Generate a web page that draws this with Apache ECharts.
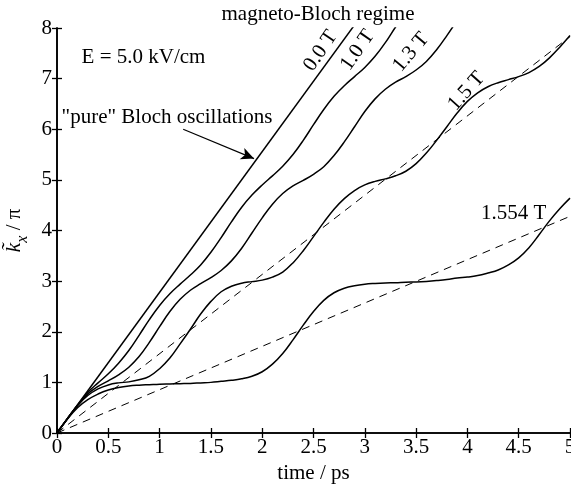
<!DOCTYPE html>
<html>
<head>
<meta charset="utf-8">
<script src="https://cdn.jsdelivr.net/npm/echarts@6/dist/echarts.min.js"></script>
<style>html,body{margin:0;padding:0;background:#fff}#c{width:571px;height:485px}</style>
</head>
<body>
<div id="c"></div>
<script>
// ---- data ----
const tGrid = [0,0.1,0.2,0.3,0.4,0.5,0.6,0.7,0.8,0.9,1.0,1.1,1.2,1.3,1.4,1.5,1.6,1.7,1.8,1.9,2.0,2.1,2.2,2.3,2.4,2.5,2.6,2.7,2.8,2.9,3.0,3.1,3.2,3.3,3.4,3.5,3.6,3.7,3.8,3.9,4.0,4.1,4.2,4.3,4.4,4.5,4.6,4.7,4.8,4.9,5.0];
const t00 = [0, 2.9];
const k00 = [0, 8.06];
const t10 = [0,0.1,0.2,0.3,0.4,0.5,0.6,0.7,0.8,0.9,1.0,1.1,1.2,1.3,1.4,1.5,1.6,1.7,1.8,1.9,2.0,2.1,2.2,2.3,2.4,2.5,2.6,2.7,2.8,2.9,3.0,3.1,3.2,3.3,3.4];
const k10 = [0,0.28,0.55,0.8,0.99,1.17,1.38,1.63,1.93,2.24,2.52,2.75,2.94,3.12,3.32,3.57,3.86,4.17,4.46,4.7,4.9,5.08,5.27,5.5,5.78,6.09,6.39,6.65,6.86,7.04,7.22,7.44,7.71,8.02,8.3];
const t13 = [0,0.1,0.2,0.3,0.4,0.5,0.6,0.7,0.8,0.9,1.0,1.1,1.2,1.3,1.4,1.5,1.6,1.7,1.8,1.9,2.0,2.1,2.2,2.3,2.4,2.5,2.6,2.7,2.8,2.9,3.0,3.1,3.2,3.3,3.4,3.5,3.6,3.7,3.8,3.9];
const k13 = [0,0.28,0.55,0.77,0.92,1.03,1.15,1.3,1.51,1.79,2.1,2.4,2.64,2.82,2.95,3.07,3.21,3.4,3.65,3.95,4.25,4.52,4.73,4.88,4.99,5.11,5.26,5.48,5.75,6.05,6.35,6.6,6.79,6.93,7.04,7.17,7.34,7.57,7.85,8.15];
const k15 = [0,0.28,0.54,0.74,0.87,0.95,0.99,1.01,1.05,1.12,1.27,1.48,1.76,2.05,2.35,2.6,2.79,2.9,2.96,2.99,3.02,3.08,3.18,3.36,3.6,3.88,4.16,4.42,4.63,4.79,4.9,4.97,5.02,5.08,5.17,5.32,5.53,5.78,6.05,6.32,6.55,6.72,6.84,6.92,6.98,7.04,7.12,7.24,7.41,7.62,7.85];
const k1554 = [0,0.27,0.5,0.66,0.77,0.85,0.9,0.93,0.945,0.955,0.965,0.97,0.975,0.98,0.99,1.0,1.02,1.04,1.07,1.12,1.21,1.36,1.57,1.84,2.13,2.4,2.62,2.77,2.86,2.91,2.94,2.955,2.965,2.97,2.98,2.985,2.995,3.01,3.03,3.06,3.08,3.11,3.16,3.22,3.32,3.46,3.66,3.92,4.19,4.43,4.64];
const tDash = [0, 5];
const kDash15 = [0, 7.83];
const kDash1554 = [0, 4.28];
const xTicks = {min: 0, max: 5, step: 0.5};
const yTicks = {min: 0, max: 8, step: 1};
const curveLabels = ['0.0 T', '1.0 T', '1.3 T', '1.5 T', '1.554 T'];

function zip(t, k) { return t.map((v, i) => [v, k[i]]); }

const FONT = "'Liberation Serif','Times New Roman',serif";
const FS = 21;
const chart = echarts.init(document.getElementById('c'), null, {renderer: 'canvas'});

const axisLine = {show: true, lineStyle: {color: '#000', width: 1.6}};
const tick = {show: true, inside: true, length: 5, lineStyle: {color: '#000', width: 1.3}};

function solid(name, data) {
  return {name, type: 'line', data, symbol: 'none', smooth: 0.4, clip: true,
    lineStyle: {color: '#000', width: 1.5}, z: 3};
}
function dashed(name, data) {
  return {name, type: 'line', data, symbol: 'none', clip: true,
    lineStyle: {color: '#000', width: 1, type: [8, 6]}, z: 2};
}

const option = {
  animation: false,
  backgroundColor: '#fff',
  textStyle: {fontFamily: FONT},
  title: {text: 'magneto-Bloch regime', left: 313, top: -1, textAlign: 'center',
    textStyle: {fontFamily: FONT, fontWeight: 'normal', fontSize: FS, color: '#000'}},
  grid: {left: 57, right: 1, top: 28, bottom: 52, containLabel: false, outerBoundsMode: 'none'},
  xAxis: [
    {type: 'value', position: 'bottom', min: xTicks.min, max: xTicks.max, interval: xTicks.step,
      axisLine, axisTick: tick, splitLine: {show: false},
      axisLabel: {color: '#000', fontSize: FS, fontFamily: FONT, margin: 4, showMaxLabel: true},
      name: 'time / ps', nameLocation: 'middle', nameGap: 26,
      nameTextStyle: {color: '#000', fontSize: FS, fontFamily: FONT}},
    {type: 'value', position: 'top', min: xTicks.min, max: xTicks.max, interval: xTicks.step,
      axisLine, axisTick: tick, splitLine: {show: false}, axisLabel: {show: false}}
  ],
  yAxis: [
    {type: 'value', position: 'left', min: yTicks.min, max: yTicks.max, interval: yTicks.step,
      axisLine, axisTick: tick, splitLine: {show: false},
      axisLabel: {color: '#000', fontSize: FS, fontFamily: FONT, margin: 5},
      name: '{a|k̃}{b|x}{c| / π}', nameLocation: 'middle', nameRotate: 90, nameGap: 19,
      nameTextStyle: {color: '#000', fontFamily: FONT,
        rich: {
          a: {fontSize: 22, fontStyle: 'italic', fontFamily: FONT, color: '#000', lineHeight: 28, verticalAlign: 'middle'},
          b: {fontSize: 16, fontStyle: 'italic', fontFamily: FONT, color: '#000', lineHeight: 28, verticalAlign: 'bottom', padding: [0, 0, -2, 0]},
          c: {fontSize: 21, fontFamily: FONT, color: '#000', lineHeight: 28, verticalAlign: 'middle'}
        }}},
    {type: 'value', position: 'right', min: yTicks.min, max: yTicks.max, interval: yTicks.step,
      axisLine, axisTick: tick, splitLine: {show: false}, axisLabel: {show: false}}
  ],
  series: [
    dashed('dash15', zip(tDash, kDash15)),
    dashed('dash1554', zip(tDash, kDash1554)),
    Object.assign(solid(curveLabels[0], zip(t00, k00)), {smooth: false,
      markLine: {silent: true, symbol: ['none', 'arrow'], symbolSize: [9, 13], label: {show: false},
        lineStyle: {color: '#000', width: 1.2, type: 'solid'},
        data: [[{coord: [1.23, 6.0]}, {coord: [1.92, 5.42]}]]}}),
    solid(curveLabels[1], zip(t10, k10)),
    solid(curveLabels[2], zip(t13, k13)),
    solid(curveLabels[3], zip(tGrid, k15)),
    solid(curveLabels[4], zip(tGrid, k1554))
  ]
};
chart.setOption(option);

// annotations anchored in data coordinates
const notes = [
  {text: curveLabels[0], at: [2.57, 7.55], rot: 56, align: 'center'},
  {text: curveLabels[1], at: [2.93, 7.56], rot: 55, align: 'center'},
  {text: curveLabels[2], at: [3.45, 7.52], rot: 50, align: 'center'},
  {text: curveLabels[3], at: [3.99, 6.75], rot: 48, align: 'center'},
  {text: curveLabels[4], at: [4.45, 4.34], rot: 0, align: 'center'},
  {text: 'E = 5.0 kV/cm', at: [0.24, 7.41], rot: 0, align: 'left'},
  {text: '"pure" Bloch oscillations', at: [0.045, 6.23], rot: 0, align: 'left'}
];
const elements = notes.map(n => {
  const p = chart.convertToPixel({gridIndex: 0}, n.at);
  return {type: 'text', x: p[0], y: p[1], rotation: n.rot * Math.PI / 180, z: 10,
    style: {text: n.text, fill: '#000', font: FS + 'px ' + FONT,
      align: n.align, verticalAlign: 'middle', textAlign: n.align, textVerticalAlign: 'middle'}};
});
chart.setOption({graphic: {elements}});
</script>
</body>
</html>
